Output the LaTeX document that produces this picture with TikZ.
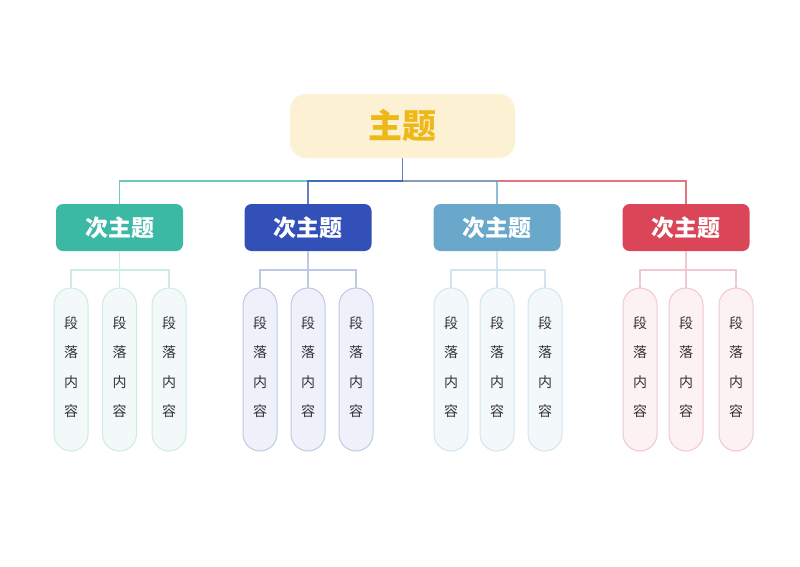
\documentclass[tikz,border=0pt]{standalone}
\usepackage{fontspec}
\newfontfamily\cjk{Noto Sans CJK SC}
\definecolor{mainfill}{HTML}{FCF2D3}
\definecolor{maintext}{HTML}{EDB818}
\definecolor{cA}{HTML}{3BB9A4}
\definecolor{cB}{HTML}{3350B9}
\definecolor{cC}{HTML}{69A8CB}
\definecolor{cD}{HTML}{DA4658}
\definecolor{fA}{HTML}{F2F9F8}\definecolor{bA}{HTML}{CDEBE6}
\definecolor{fB}{HTML}{EFF1FA}\definecolor{bB}{HTML}{C0C8E6}
\definecolor{fC}{HTML}{F3F8FB}\definecolor{bC}{HTML}{D2E5EF}
\definecolor{fD}{HTML}{FCF1F3}\definecolor{bD}{HTML}{F0C8CE}
\definecolor{leaftext}{HTML}{333333}
\tikzset{
  mainbox/.style={draw=none, fill=mainfill, rounded corners=16pt, minimum width=225pt, minimum height=64pt, text=maintext, font=\cjk\bfseries\fontsize{34}{38}\selectfont, inner sep=0pt},
  subbox/.style={draw=none, fill=#1, rounded corners=7pt, minimum width=127pt, minimum height=47pt, text=white, font=\cjk\bfseries\fontsize{23}{26}\selectfont, inner sep=0pt},
  leafbox/.style n args={2}{draw=#2, fill=#1, line width=1pt, rounded corners=17pt, minimum width=34pt, minimum height=163pt},
  leaftxt/.style={text=leaftext, font=\cjk\fontsize{14}{29.5}\selectfont, align=center, inner sep=0pt},
  conn/.style={draw=#1, line width=1.3pt, opacity=0.75},
  leafconn/.style={draw=#1, line width=1.2pt},
}
\begin{document}
\begin{tikzpicture}[x=1pt,y=-1pt]
\useasboundingbox (0,0) rectangle (800,566);
\fill[white] (0,0) rectangle (800,566);
\node[mainbox] (m) at (402.5,126) {主题};
\node[subbox=cA] (s1) at (119.5,227.5) {次主题};
\node[subbox=cB] (s2) at (308,227.5) {次主题};
\node[subbox=cC] (s3) at (497,227.5) {次主题};
\node[subbox=cD] (s4) at (686,227.5) {次主题};
\coordinate (j) at (402.5,181);
\draw[conn=cA] (j) -| (s1.north);
\draw[conn=cD] (j) -| (s4.north);
\draw[conn=cC] (j) -| (s3.north);
\draw[conn=cB] (j) -| (s2.north);
\draw[conn=cB] (m.south) -- (j);
% leaves
\foreach \g/\xl/\xm/\xr/\f/\b in {1/71/119.5/169/fA/bA, 2/260/308/356/fB/bB, 3/451/497/545/fC/bC, 4/640/686/736/fD/bD}{
  \node[leafbox={\f}{\b}] (l\g a) at (\xl,369.5) {};
  \node[leafbox={\f}{\b}] (l\g b) at (\xm,369.5) {};
  \node[leafbox={\f}{\b}] (l\g c) at (\xr,369.5) {};
  \node[leaftxt] (t\g a) at (\xl,367) {段\\落\\内\\容};
  \node[leaftxt] (t\g b) at (\xm,367) {段\\落\\内\\容};
  \node[leaftxt] (t\g c) at (\xr,367) {段\\落\\内\\容};
  \coordinate (k\g) at (\xm,270);
  \draw[leafconn=\b] (s\g.south) -- (l\g b.north);
  \draw[leafconn=\b] (l\g a.north) |- (k\g) -| (l\g c.north);
}
\end{tikzpicture}
\end{document}
